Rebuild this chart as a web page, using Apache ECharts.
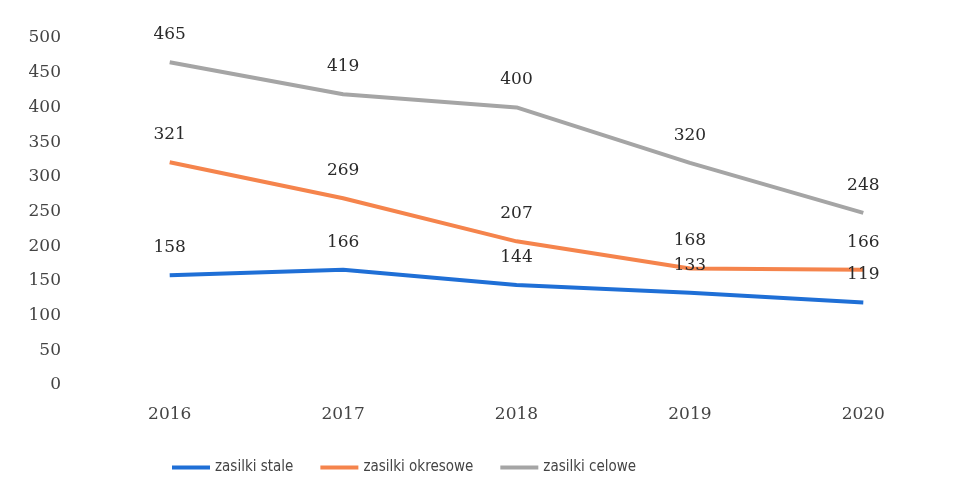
<!DOCTYPE html>
<html>
<head>
<meta charset="utf-8">
<script src="https://cdn.jsdelivr.net/npm/echarts@6/dist/echarts.min.js"></script>
<style>
html,body{margin:0;padding:0;background:#fff;}
#chart{width:967px;height:498px;}
</style>
</head>
<body>
<div id="chart"></div>
<script>
const years = ['2016','2017','2018','2019','2020'];
const stale = [158,166,144,133,119];
const okresowe = [321,269,207,168,166];
const celowe = [465,419,400,320,248];
const yTicks = {min:0, max:500, interval:50};

const numFont = '"DejaVu Serif", "Liberation Serif", serif';

const chart = echarts.init(document.getElementById('chart'));

function mkSeries(name, data, color){
    return {
        name, type:'line', data, symbol:'circle', symbolSize:0, showSymbol:true,
        lineStyle:{color, width:4}, itemStyle:{color},
        label:{ show:true, position:'top', distance:19, color:'#2a2a2a', fontFamily:numFont, fontSize:17 }
    };
}

chart.setOption({
    backgroundColor:'#fff',
    animation:false,
    grid:{ left:83, right:17, top:38, bottom:113 },
    legend:{
        bottom:18, left:167, itemGap:27, itemWidth:38, itemHeight:4,
        icon:'rect',
        textStyle:{ fontFamily:'"DejaVu Sans Condensed", "Liberation Sans Narrow", sans-serif', fontSize:15, color:'#444' },
        data:['zasilki stale','zasilki okresowe','zasilki celowe']
    },
    xAxis:{
        type:'category', data:years, boundaryGap:true,
        axisLine:{show:false}, axisTick:{show:false},
        axisLabel:{ color:'#444', fontFamily:numFont, fontSize:17, margin:21 }
    },
    yAxis:{
        type:'value', min:yTicks.min, max:yTicks.max, interval:yTicks.interval,
        splitLine:{show:false}, axisLine:{show:false}, axisTick:{show:false},
        axisLabel:{ color:'#444', fontFamily:numFont, fontSize:17, margin:22 }
    },
    series:[
        mkSeries('zasilki stale', stale, '#1f6fd6'),
        mkSeries('zasilki okresowe', okresowe, '#f5844c'),
        mkSeries('zasilki celowe', celowe, '#a5a5a5')
    ]
});
</script>
</body>
</html>
